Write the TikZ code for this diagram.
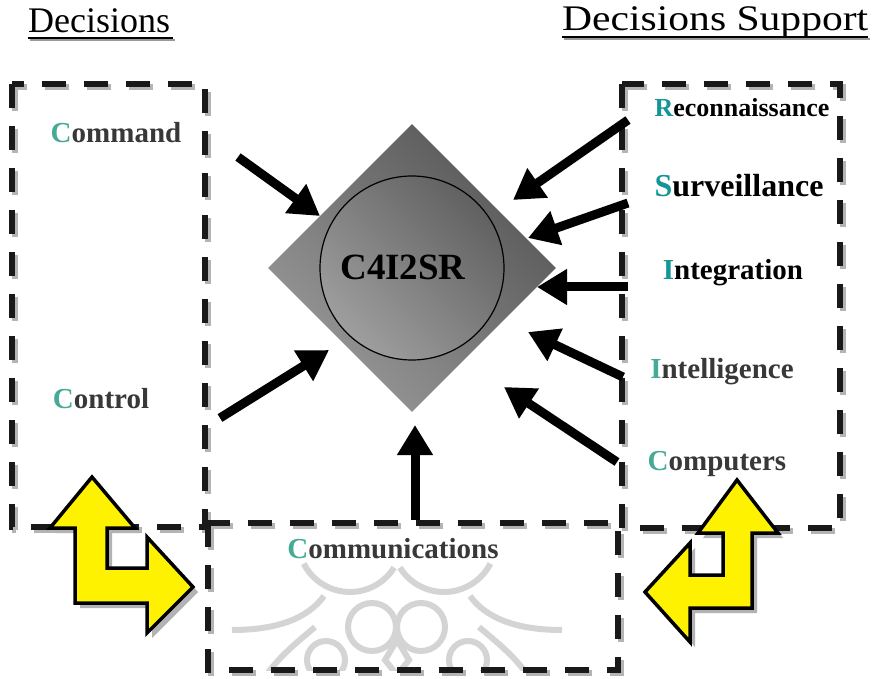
\documentclass[tikz,border=0pt]{standalone}
\usepackage{fontspec}
\setmainfont{Liberation Serif}
\usetikzlibrary{arrows.meta,shapes.geometric,calc}
\definecolor{tealC}{RGB}{20,150,150}
\definecolor{tealL}{RGB}{70,170,150}
\definecolor{shadowgray}{RGB}{180,180,180}
\begin{document}
\begin{tikzpicture}[x=1pt,y=-1pt,
  dbox/.style={draw=black!90, line width=5.5pt, dash pattern=on 24pt off 18pt},
  dboxshadow/.style={draw=shadowgray, line width=6pt, dash pattern=on 24pt off 18pt},
  bigarrow/.style={line width=9pt, -{Triangle[length=30pt,width=34pt]}},
  lab/.style={font=\fontsize{29}{34}\selectfont\bfseries, text=black!78, inner sep=0pt, anchor=base},
  labdark/.style={lab, text=black},
  yarrow/.style={fill=yellow, draw=black, line width=3.5pt, line join=miter},
  yshadow/.style={fill=black!30},
  titlefont/.style={inner sep=0pt, anchor=base west},
  deco/.style={draw=black!17, line width=6pt}
]
\useasboundingbox (0,0) rectangle (887,679);
\fill[white] (0,0) rectangle (887,679);

% ---- communications background pattern ----
\begin{scope}
  \clip (208,523) rectangle (618,670);
  \draw[deco] (350,540) ++(153:52) arc[start angle=153, end angle=32, radius=52];
  \draw[deco] (444,540) ++(148:52) arc[start angle=148, end angle=27, radius=52];
  \draw[deco] (372,627) circle (24);
  \draw[deco] (421,627) circle (24);
  \draw[deco] (326,660) circle (19);
  \draw[deco] (468,660) circle (19);
  \draw[deco] (232,630) .. controls (278,630) and (308,618) .. (324,596);
  \draw[deco] (265,677) .. controls (280,655) and (300,640) .. (315,627);
  \draw[deco] (562,630) .. controls (516,630) and (486,618) .. (470,596);
  \draw[deco] (529,677) .. controls (514,655) and (494,640) .. (479,627);
  \draw[deco] (397,640) -- (385,660) -- (397,675) -- (409,660) -- cycle;
\end{scope}

% ---- dashed boxes (shadows then boxes) ----
\draw[dboxshadow] (15,87) rectangle (208,530);
\draw[dboxshadow] (625,87) rectangle (843,531);
\draw[dboxshadow] (211,526) rectangle (621,673);
\draw[dbox] (12,84) rectangle (205,527);
\draw[dbox] (622,84) rectangle (840,528);
\draw[dbox] (208,523) rectangle (618,670);

% ---- titles ----
\node[titlefont, font=\fontsize{36}{40}\selectfont] (tleft) at (28,33) {Decisions};
\draw[black!40, line width=2pt] (30,40) -- (175,40);
\draw[line width=1.8pt] (28,38) -- (173,38);
\node[titlefont, font=\fontsize{36}{40}\selectfont] (tright) at (562,31) {\scalebox{1.155}[1]{Decisions Support}};
\draw[black!40, line width=2pt] (564,39) -- (870,39);
\draw[line width=1.8pt] (562,37) -- (868,37);

% ---- central diamond ----
\node[diamond, minimum width=288pt, minimum height=288pt, inner sep=0pt,
      top color=black!66, bottom color=black!40, shading angle=-45] (dia) at (412,268) {};
\node[circle, minimum size=184pt, inner sep=0pt, draw=black, line width=1.2pt,
      top color=black!62, bottom color=black!38, shading angle=-45] (core) at (412,268) {};
\node[font=\fontsize{37}{40}\selectfont\bfseries, inner sep=0pt] (c4) at (403,267) {C4I2SR};

% ---- labels ----
\node[lab] (cmd) at (116,143) {{\color{tealL}C}ommand};
\node[lab] (ctl) at (101,408) {{\color{tealL}C}ontrol};
\node[lab] (com) at (393,558) {{\color{tealL}C}ommunications};
\node[labdark, font=\fontsize{26}{30}\selectfont\bfseries] (rec) at (742,117) {{\color{tealC}R}econnaissance};
\node[labdark, font=\fontsize{32}{36}\selectfont\bfseries] (sur) at (739,197) {{\color{tealC}S}urveillance};
\node[labdark] (int) at (733,280) {{\color{tealC}I}ntegration};
\node[lab] (itl) at (722,378) {{\color{tealL}I}ntelligence};
\node[lab] (cmp) at (717,470) {{\color{tealL}C}omputers};

% ---- arrow end points ----
\coordinate (a1s) at (238,157); \coordinate (a1t) at (320,216);
\coordinate (a2s) at (220,418); \coordinate (a2t) at (329,350);
\coordinate (a3s) at (415,520); \coordinate (a3t) at (415,425);
\coordinate (a4s) at (628,120); \coordinate (a4t) at (513,200);
\coordinate (a5s) at (628,203); \coordinate (a5t) at (528,238);
\coordinate (a6s) at (628,287); \coordinate (a6t) at (537,287);
\coordinate (a7s) at (623,377); \coordinate (a7t) at (528,332);
\coordinate (a8s) at (617,462); \coordinate (a8t) at (504,387);
\foreach \i in {1,...,8} {\draw[bigarrow] (a\i s) -- (a\i t);}

% ---- yellow bent double arrows ----
\fill[yshadow] ($(92,477)+(5,5)$) -- ++(43,51) -- ++(-28,0) -- ++(0,40) -- ++(40,0) -- ++(0,-31) -- ++(46,50) -- ++(-46,46) -- ++(0,-30) -- ++(-72,0) -- ++(0,-75) -- ++(-25,0) -- cycle;
\draw[yarrow] (92,477) -- (135,528) -- (107,528) -- (107,568) -- (147,568) -- (147,537) -- (193,587) -- (147,633) -- (147,603) -- (75,603) -- (75,528) -- (50,528) -- cycle;

\fill[yshadow] ($(737,480)+(5,5)$) -- ++(41,53) -- ++(-26,0) -- ++(0,75) -- ++(-62,0) -- ++(0,34) -- ++(-45,-50) -- ++(45,-49) -- ++(0,32) -- ++(33,0) -- ++(0,-42) -- ++(-25,0) -- cycle;
\draw[yarrow] (737,480) -- (778,533) -- (752,533) -- (752,608) -- (690,608) -- (690,642) -- (645,592) -- (690,543) -- (690,575) -- (723,575) -- (723,533) -- (698,533) -- cycle;
\end{tikzpicture}
\end{document}
